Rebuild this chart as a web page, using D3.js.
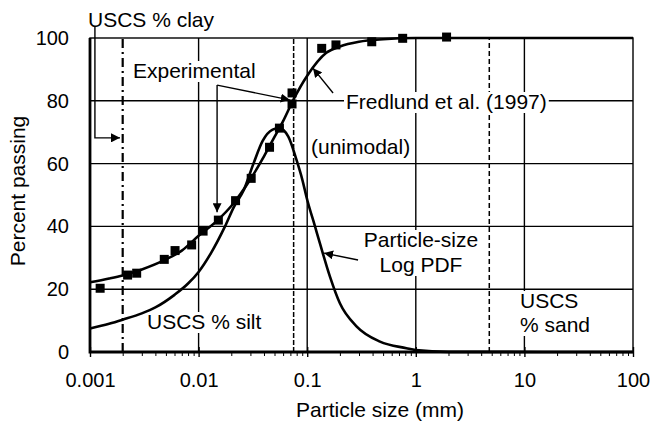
<!DOCTYPE html>
<html>
<head>
<meta charset="utf-8">
<script src="https://cdn.jsdelivr.net/npm/d3@7"></script>
<style>
  body { margin: 0; background: #fff; }
  svg { display: block; font-family: "Liberation Sans", Arial, sans-serif; }
</style>
</head>
<body>
<svg id="chart" width="651" height="427"></svg>
<script>
// tick labels
const xTicks = [0.001, 0.01, 0.1, 1, 10, 100];
const xTickLabels = ["0.001", "0.01", "0.1", "1", "10", "100"];
const yTicks = [0, 20, 40, 60, 80, 100];

// USCS boundaries (mm): clay/silt, silt/sand, sand/gravel
const uscsBounds = [0.002, 0.075, 4.75];

// experimental grain-size data [size mm, % passing]
const expSize = [0.00124, 0.00222, 0.00269, 0.00483, 0.00607, 0.00863, 0.0110, 0.0152, 0.0219, 0.0305, 0.0450, 0.0555, 0.0725, 0.0725, 0.136, 0.184, 0.393, 0.757, 1.92];
const expPass = [20.3, 24.5, 25.1, 29.5, 32.3, 34.1, 38.5, 42, 48.2, 55.3, 65.2, 71.3, 79, 82.5, 96.7, 97.8, 98.8, 99.9, 100.3];

// Fredlund et al. (1997) unimodal fit
const fitSize = [0.001, 0.0015, 0.002, 0.003, 0.005, 0.007, 0.01, 0.015, 0.02, 0.03, 0.04, 0.05, 0.06, 0.075, 0.1, 0.15, 0.2, 0.3, 0.5, 1, 100];
const fitPass = [22.2, 23.4, 24.4, 26.3, 29.5, 32.3, 37, 42, 46.5, 55, 62.3, 68.5, 73.5, 80.5, 88, 95.3, 97.3, 98.8, 99.6, 100, 100];

// particle-size log PDF
const pdfSize = [0.001, 0.0015, 0.002, 0.003, 0.004, 0.006, 0.008, 0.01, 0.013, 0.0175, 0.021, 0.026, 0.032, 0.039, 0.048, 0.055, 0.067, 0.08, 0.09, 0.1, 0.118, 0.131, 0.162, 0.2, 0.286, 0.468, 0.82, 1, 2, 100];
const pdfVal = [7.5, 9, 10.3, 12.3, 14.2, 18.2, 21.8, 25.5, 31.5, 40, 46, 51.5, 60, 67.3, 70.8, 71.3, 68.6, 61, 55, 48.5, 40, 34.6, 24, 15.5, 8.1, 3.3, 1.2, 0.6, 0.05, 0];

const svg = d3.select("#chart");
const margin = {top: 38, right: 18, bottom: 75, left: 90};
const width = +svg.attr("width");
const height = +svg.attr("height");

const x = d3.scaleLog()
    .domain([0.001, 100])
    .range([margin.left, width - margin.right]);

const y = d3.scaleLinear()
    .domain([0, 100])
    .range([height - margin.bottom, margin.top]);

const x0 = x.range()[0], x1 = x.range()[1];
const y0 = y.range()[0], y1 = y.range()[1];

// arrow head
svg.append("defs").append("marker")
    .attr("id", "arrow")
    .attr("viewBox", "0 0 10 10")
    .attr("refX", 10).attr("refY", 5)
    .attr("markerWidth", 9).attr("markerHeight", 9)
    .attr("markerUnits", "userSpaceOnUse")
    .attr("orient", "auto")
    .append("path")
    .attr("d", "M0,0 L10,5 L0,10 Z")
    .attr("fill", "#000");

// grid
svg.append("g")
    .selectAll("line")
    .data(yTicks.slice(1, -1))
    .join("line")
    .attr("x1", x0).attr("x2", x1)
    .attr("y1", d => y(d)).attr("y2", d => y(d))
    .attr("stroke", "#000").attr("stroke-width", 1.4);

svg.append("g")
    .selectAll("line")
    .data(xTicks.slice(1, -1))
    .join("line")
    .attr("x1", d => x(d)).attr("x2", d => x(d))
    .attr("y1", y0).attr("y2", y1)
    .attr("stroke", "#000").attr("stroke-width", 1.4);

// USCS boundary lines
const boundDash = ["9,4,2,4", "5,2", "5,3"];
svg.append("g")
    .selectAll("line")
    .data(uscsBounds)
    .join("line")
    .attr("x1", d => x(d)).attr("x2", d => x(d))
    .attr("y1", y0).attr("y2", y1)
    .attr("stroke", "#000")
    .attr("stroke-width", (d, i) => i === 0 ? 2.2 : 1.5)
    .attr("stroke-dasharray", (d, i) => boundDash[i]);

// labels sitting on white boxes over the grid
function label(lines, px, py, anchor, lh) {
    const g = svg.append("g");
    const t = g.append("text")
        .attr("font-size", 21)
        .attr("text-anchor", anchor || "start");
    lines.forEach((s, i) => {
        t.append("tspan").attr("x", px).attr("y", py + i * (lh || 24)).text(s);
    });
    const b = t.node().getBBox();
    g.insert("rect", "text")
        .attr("x", b.x - 2).attr("y", b.y + 2)
        .attr("width", b.width + 4).attr("height", b.height - 2)
        .attr("fill", "#fff");
    return g;
}

label(["Experimental"], 133, 78);
label(["Fredlund et al. (1997)"], 346, 109);
label(["(unimodal)"], 311, 154);
label(["Particle-size", "Log PDF"], 421, 247, "middle", 25);
label(["USCS", "% sand"], 520, 308, "start", 24);
label(["USCS % silt"], 147, 329);

svg.append("text")
    .attr("x", 88).attr("y", 27)
    .attr("font-size", 21)
    .text("USCS % clay");

// curves
const line = d3.line()
    .x(d => x(d[0]))
    .y(d => y(d[1]))
    .curve(d3.curveMonotoneX);

svg.append("path")
    .datum(fitSize.map((d, i) => [d, fitPass[i]]))
    .attr("d", line)
    .attr("fill", "none").attr("stroke", "#000").attr("stroke-width", 2.6);

svg.append("path")
    .datum(pdfSize.map((d, i) => [d, pdfVal[i]]))
    .attr("d", line)
    .attr("fill", "none").attr("stroke", "#000").attr("stroke-width", 2.6);

// experimental points
const sq = 9;
svg.append("g")
    .selectAll("rect")
    .data(expSize.map((d, i) => [d, expPass[i]]))
    .join("rect")
    .attr("x", d => x(d[0]) - sq / 2)
    .attr("y", d => y(d[1]) - sq / 2)
    .attr("width", sq).attr("height", sq)
    .attr("fill", "#000");

// leader arrows
function leader(pts) {
    svg.append("path")
        .attr("d", d3.line()(pts.map(p => [x(p[0]), y(p[1])])))
        .attr("fill", "none")
        .attr("stroke", "#000").attr("stroke-width", 1.4)
        .attr("marker-end", "url(#arrow)");
}
leader([[0.0148, 85], [0.0148, 44.5]]);
leader([[0.0148, 85], [0.069, 80.3]]);
leader([[0.173, 82.5], [0.113, 90.4]]);
leader([[0.294, 29.3], [0.143, 31.5]]);
leader([[0.00111, 103.5], [0.00111, 68.2], [0.00189, 68.2]]);

// frame
svg.append("rect")
    .attr("x", x0).attr("y", y1)
    .attr("width", x1 - x0).attr("height", y0 - y1)
    .attr("fill", "none").attr("stroke", "#000").attr("stroke-width", 1.4);
svg.append("path")
    .attr("d", `M${x0},${y1}V${y0}H${x1}`)
    .attr("fill", "none").attr("stroke", "#000").attr("stroke-width", 2.8);

// axes
const minor = [];
xTicks.slice(0, -1).forEach(d => { for (let k = 2; k < 10; k++) minor.push(d * k); });

svg.append("g")
    .attr("transform", `translate(0,${y0})`)
    .call(d3.axisBottom(x).tickValues(minor).tickSize(4).tickFormat(""))
    .call(g => g.select(".domain").remove());

svg.append("g")
    .attr("transform", `translate(0,${y0})`)
    .call(d3.axisBottom(x).tickValues(xTicks).tickSize(5).tickPadding(16)
        .tickFormat((d, i) => xTickLabels[i]))
    .call(g => g.select(".domain").remove())
    .call(g => g.selectAll("line").attr("y1", -5).attr("stroke-width", 1.4))
    .call(g => g.selectAll("text").attr("font-size", 20)
        .attr("font-family", "Liberation Sans, Arial, sans-serif"));

svg.append("g")
    .attr("transform", `translate(${x0},0)`)
    .call(d3.axisLeft(y).tickValues(yTicks).tickSize(0).tickPadding(21))
    .call(g => g.select(".domain").remove())
    .call(g => g.selectAll("text").attr("font-size", 20)
        .attr("font-family", "Liberation Sans, Arial, sans-serif"));

// axis titles
svg.append("text")
    .attr("x", 380).attr("y", 417)
    .attr("text-anchor", "middle")
    .attr("font-size", 21)
    .text("Particle size (mm)");

svg.append("text")
    .attr("transform", "translate(25,191) rotate(-90)")
    .attr("text-anchor", "middle")
    .attr("font-size", 21)
    .text("Percent passing");
</script>
</body>
</html>
